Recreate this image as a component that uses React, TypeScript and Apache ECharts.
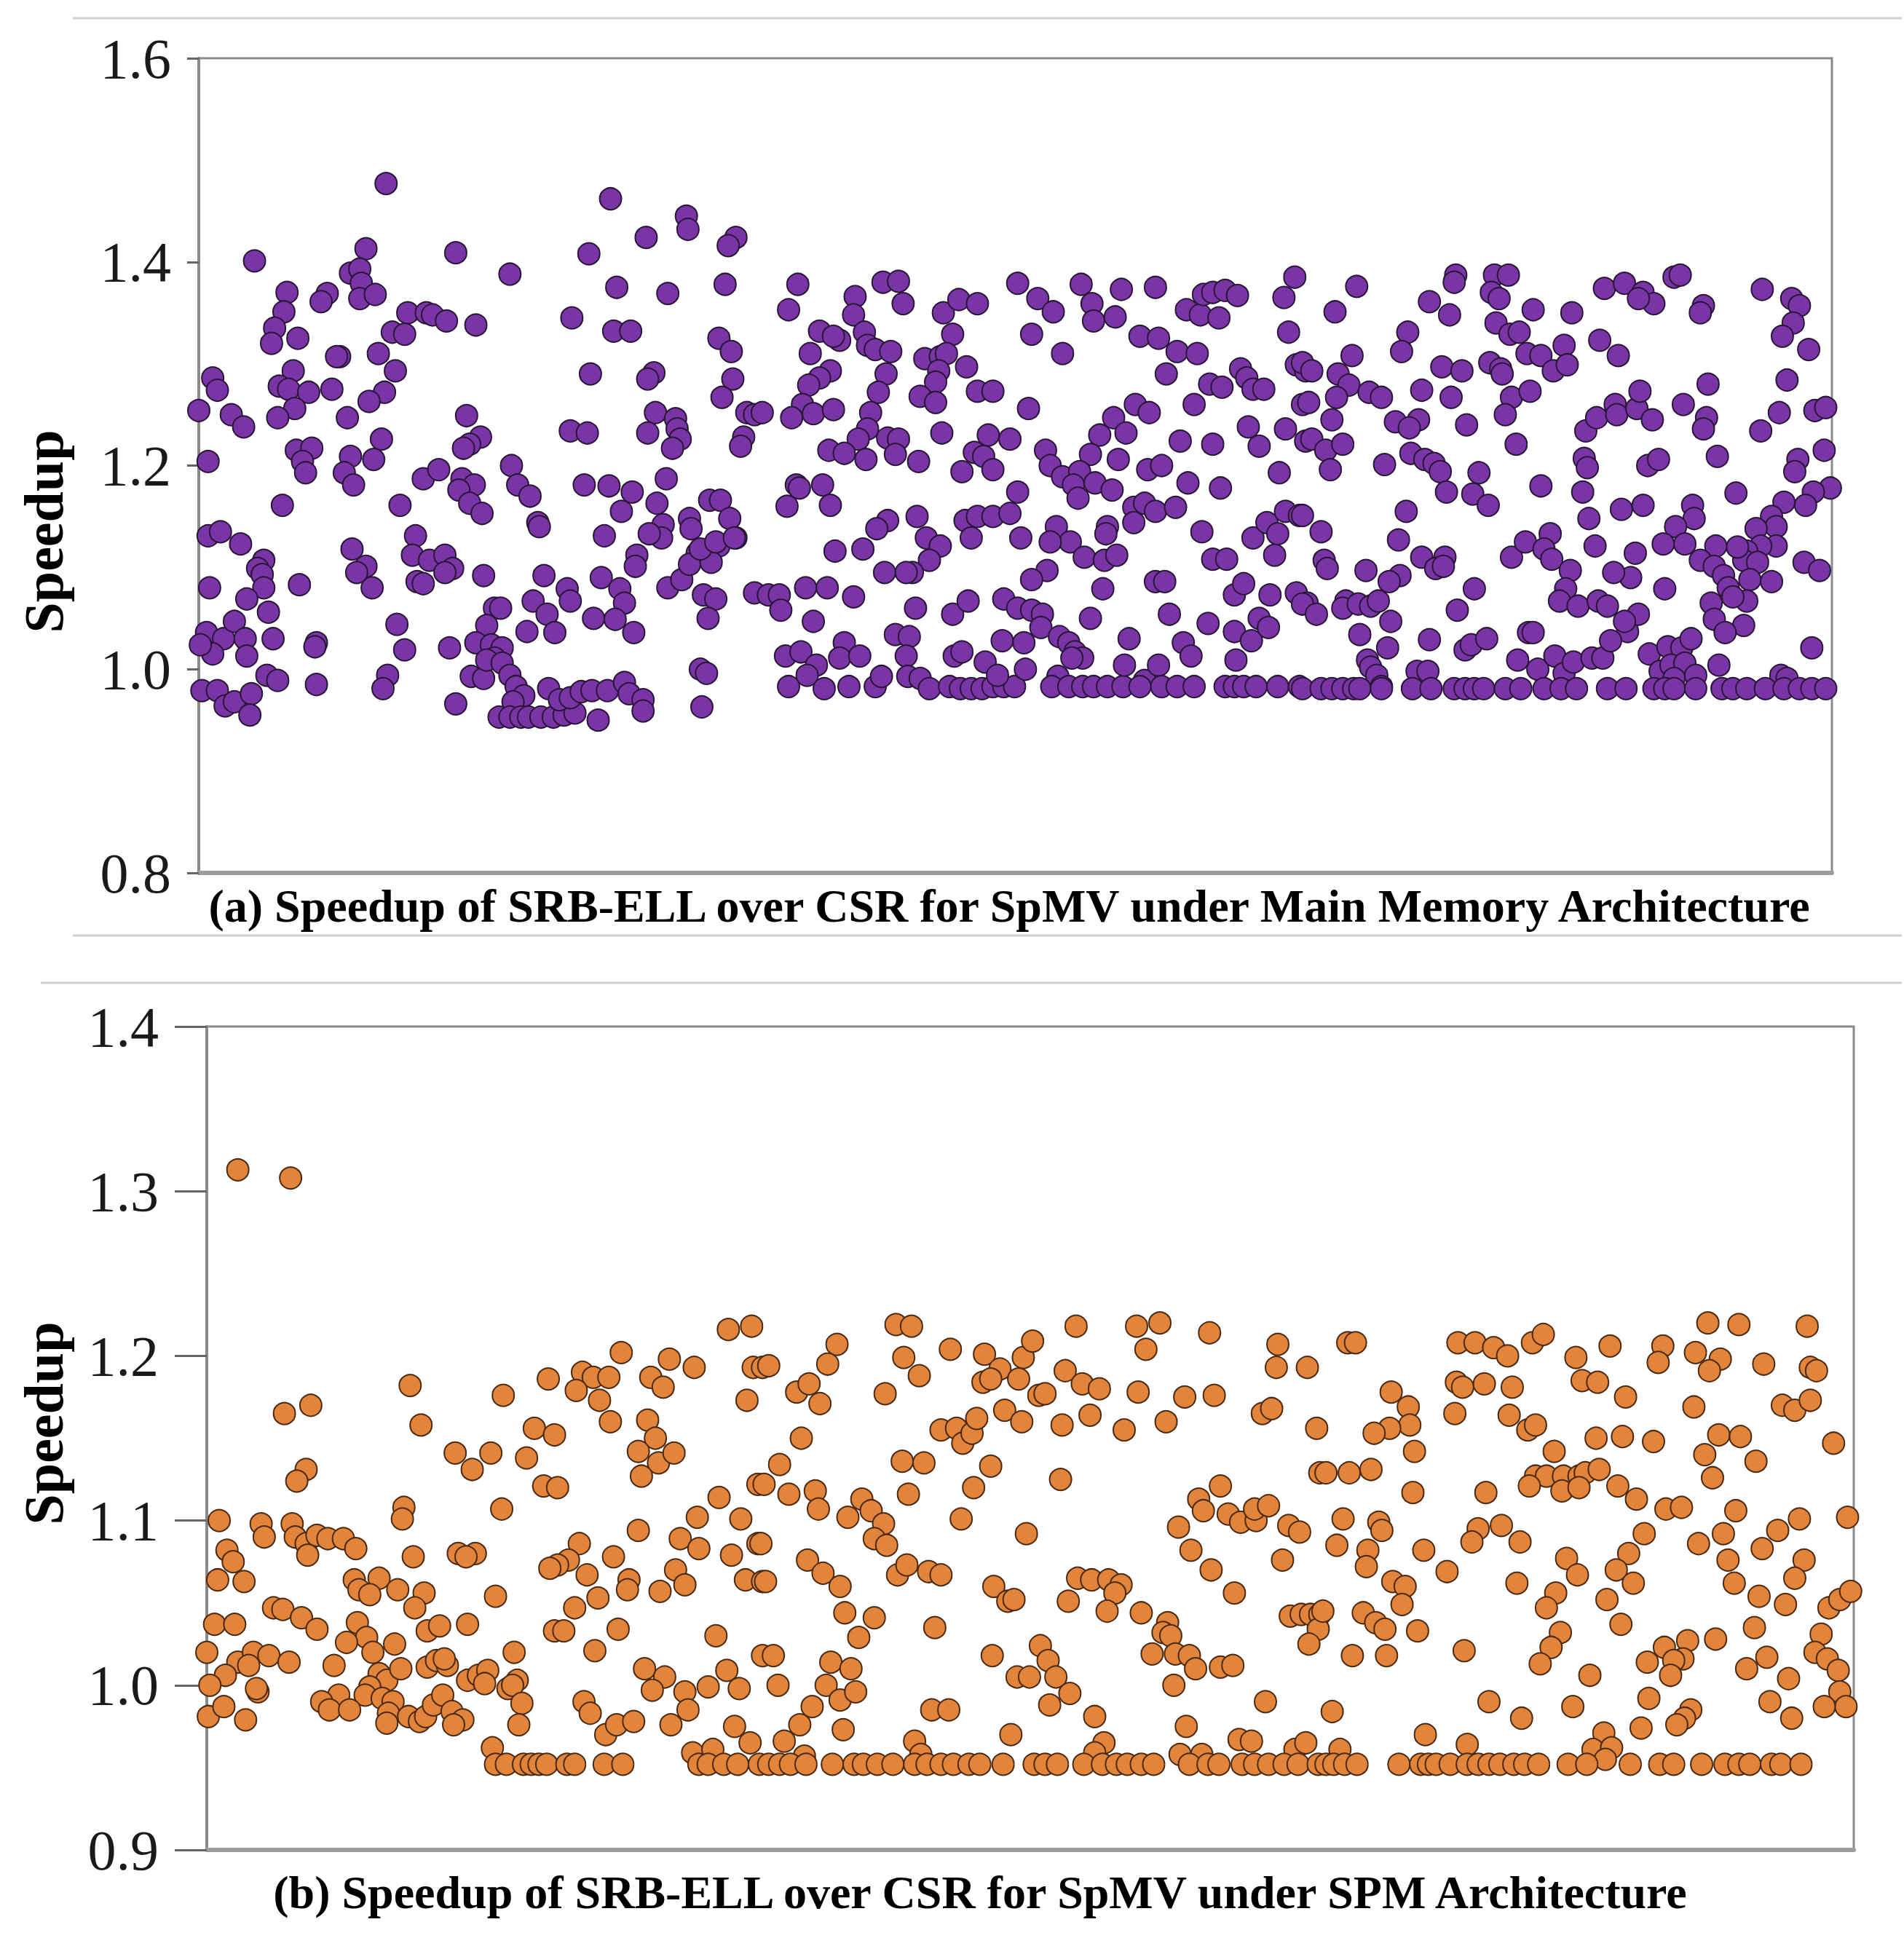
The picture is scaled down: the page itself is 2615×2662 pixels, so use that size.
import React, { useEffect, useRef } from "react";
import * as echarts from "echarts";

const W = 2615;
const H = 2662;

const SERIF = '"Liberation Serif", "Times New Roman", Times, serif';

const captionA = "(a) Speedup of SRB-ELL over CSR for SpMV under Main Memory Architecture";
const captionB = "(b) Speedup of SRB-ELL over CSR for SpMV under SPM Architecture";
const yAxisName = "Speedup";

// y axis ranges (min, max, step)
const mainMemTicks = [0.8, 1.6, 0.2];
const spmTicks = [0.9, 1.4, 0.1];
// x index ranges of the matrices
const mainMemIndexRange = [-1, 1054];
const spmIndexRange = [0, 1061];

// (a) Main Memory: [matrix index, speedup]
const mainMemSegA = [
  [120,1.477],[265,1.462],[314,1.445],[315,1.432],[288,1.424],[346,1.424],[341,1.416],[35,1.401],[107,1.413],[165,1.409],[251,1.408],[200,1.388],[56,1.370],[82,1.369],[78,1.361],[97,1.389],[103,1.393],[104,1.379],[103,1.364],[113,1.368],[269,1.375],[302,1.369],[339,1.378],[54,1.351],[48,1.335],[46,1.320],[63,1.325],[134,1.350],[146,1.350],[150,1.348],[159,1.342],[178,1.338],[124,1.331],[132,1.329],[240,1.345],[267,1.332],[278,1.332],[335,1.325],[343,1.312],[90,1.307],[88,1.307],[115,1.310],[126,1.293],[252,1.290],[293,1.291],[289,1.285],[344,1.285],[337,1.267],[8,1.286],[11,1.274],[60,1.293],[51,1.278],[57,1.275],[70,1.272],[85,1.275],[61,1.256],[50,1.247],[119,1.272],[109,1.263],[-1,1.254],[20,1.250],[28,1.238],[95,1.247],[172,1.249],[181,1.228],[174,1.221],[170,1.217],[294,1.252],[307,1.246],[308,1.236],[310,1.226],[305,1.217],[289,1.232],[239,1.234],[250,1.232],[353,1.252],[358,1.250],[351,1.228],[349,1.219],[5,1.204],[62,1.215],[72,1.217],[66,1.204],[68,1.193],[97,1.209],[93,1.193],[99,1.181],[117,1.226],[112,1.206],[144,1.187],[154,1.196],[169,1.187],[177,1.181],[167,1.176],[174,1.163],[182,1.153],[201,1.200],[205,1.181],[213,1.170],[218,1.144],[219,1.140],[248,1.181],[264,1.180],[279,1.174],[272,1.155],[301,1.187],[295,1.163],[329,1.166],[336,1.166],[342,1.148],[346,1.129],[335,1.121],[299,1.142],[298,1.129],[290,1.133],[316,1.148],[317,1.138],[261,1.131],[53,1.161],[129,1.161],[5,1.131],[13,1.135],[26,1.123],[41,1.107],[37,1.099],[40,1.093],[41,1.080],[30,1.069],[44,1.056],[6,1.080],[64,1.083],[98,1.118],[107,1.101],[111,1.080],[101,1.095],[139,1.131],[137,1.112],[148,1.107],[158,1.112],[163,1.099],[158,1.095],[140,1.086],[144,1.084],[183,1.092],[222,1.092],[237,1.079],[239,1.067],[215,1.067],[224,1.054],[229,1.036],[211,1.037],[259,1.090],[271,1.079],[274,1.065],[254,1.050],[268,1.049],[280,1.036],[282,1.112],[281,1.101],[302,1.080],[311,1.088],[321,1.114],[316,1.103],[330,1.105],[323,1.118],[333,1.125],[345,1.129],[325,1.073],[333,1.069],[328,1.050],[358,1.075],[4,1.036],[15,1.030],[8,1.015],[22,1.047],[29,1.030],[30,1.013],[0,1.024],[47,1.030],[75,1.026],[74,1.022],[127,1.044],[132,1.019],[161,1.021],[190,1.060],[194,1.060],[185,1.043],[178,1.026],[188,1.024],[195,1.021],[190,1.011],[1,0.979],[11,0.979],[16,0.964],[22,0.968],[33,0.976],[32,0.955],[43,0.994],[50,0.989],[75,0.985],[121,0.994],[118,0.981],[165,0.966],[175,0.993],[183,0.991],[185,1.009],[195,1.006],[200,0.994],[204,0.983],[209,0.974],[202,0.968],[193,0.953],[200,0.953],[207,0.953],[212,0.953],[220,0.953],[228,0.953],[235,0.955],[242,0.957],[225,0.981],[232,0.970],[239,0.972],[246,0.978],[253,0.979],[263,0.979],[274,0.987],[277,0.976],[286,0.970],[286,0.959],[257,0.950],[323,1.000],[327,0.996],[324,0.963]
];

const mainMemSegB = [
  [363,1.252],[386,1.378],[380,1.353],[400,1.332],[413,1.323],[409,1.327],[394,1.310],[407,1.293],[400,1.286],[393,1.279],[389,1.260],[382,1.247],[396,1.251],[409,1.255],[423,1.366],[422,1.348],[429,1.331],[431,1.318],[436,1.314],[446,1.312],[441,1.380],[451,1.381],[454,1.359],[443,1.290],[438,1.272],[433,1.252],[431,1.236],[425,1.226],[430,1.206],[406,1.215],[416,1.212],[444,1.227],[451,1.226],[449,1.211],[464,1.204],[385,1.181],[387,1.178],[402,1.181],[407,1.161],[379,1.160],[480,1.350],[490,1.363],[502,1.359],[486,1.329],[468,1.305],[478,1.307],[482,1.310],[477,1.293],[475,1.282],[465,1.268],[475,1.262],[495,1.297],[502,1.273],[512,1.273],[479,1.232],[509,1.230],[523,1.226],[500,1.213],[506,1.209],[492,1.194],[512,1.196],[528,1.379],[541,1.364],[551,1.351],[537,1.329],[557,1.310],[535,1.256],[569,1.378],[576,1.359],[577,1.342],[591,1.346],[595,1.373],[617,1.375],[607,1.327],[619,1.325],[631,1.312],[644,1.310],[624,1.290],[637,1.353],[646,1.348],[648,1.368],[654,1.370],[662,1.372],[670,1.367],[658,1.345],[700,1.365],[707,1.385],[703,1.331],[652,1.280],[660,1.277],[642,1.260],[672,1.295],[676,1.286],[680,1.275],[687,1.275],[708,1.299],[714,1.293],[712,1.260],[604,1.260],[613,1.252],[590,1.247],[581,1.230],[598,1.232],[575,1.211],[593,1.206],[633,1.224],[654,1.221],[677,1.238],[684,1.219],[701,1.236],[714,1.224],[546,1.215],[549,1.200],[557,1.189],[568,1.194],[564,1.181],[567,1.168],[578,1.183],[589,1.176],[612,1.196],[621,1.200],[638,1.183],[659,1.178],[697,1.193],[528,1.174],[494,1.146],[502,1.150],[512,1.150],[523,1.153],[498,1.129],[530,1.129],[444,1.146],[437,1.138],[428,1.118],[410,1.116],[463,1.150],[469,1.129],[478,1.121],[471,1.107],[460,1.095],[456,1.095],[442,1.095],[553,1.140],[562,1.125],[571,1.110],[549,1.125],[584,1.107],[592,1.112],[586,1.140],[585,1.133],[603,1.159],[610,1.163],[617,1.155],[630,1.159],[603,1.144],[647,1.135],[654,1.108],[663,1.108],[680,1.129],[689,1.144],[696,1.133],[701,1.155],[710,1.151],[694,1.112],[547,1.097],[537,1.088],[583,1.079],[617,1.086],[623,1.086],[668,1.073],[674,1.084],[691,1.073],[708,1.075],[715,1.065],[367,1.073],[374,1.073],[375,1.058],[391,1.080],[405,1.080],[422,1.071],[396,1.047],[462,1.060],[486,1.054],[496,1.067],[519,1.069],[528,1.060],[537,1.058],[544,1.054],[543,1.041],[575,1.050],[626,1.054],[651,1.045],[668,1.037],[679,1.028],[684,1.050],[690,1.041],[378,1.013],[388,1.017],[398,1.004],[392,0.994],[380,0.983],[403,0.981],[416,1.026],[413,1.011],[426,1.013],[419,0.983],[436,0.983],[440,0.993],[449,1.034],[458,1.032],[456,1.013],[457,0.993],[465,0.991],[471,0.981],[484,0.983],[491,0.981],[498,0.981],[505,0.981],[512,0.983],[519,0.983],[526,0.983],[487,1.013],[492,1.017],[507,1.007],[518,1.028],[532,1.026],[533,1.000],[515,0.994],[554,0.993],[550,0.983],[561,0.983],[570,0.983],[577,0.983],[586,0.983],[596,0.983],[555,1.032],[561,1.026],[565,1.017],[570,1.011],[563,1.011],[600,1.030],[597,1.004],[610,0.989],[619,1.004],[621,0.983],[631,0.983],[642,0.983],[607,0.983],[635,1.026],[640,1.013],[662,0.983],[668,0.983],[674,0.983],[682,0.983],[696,0.983],[710,0.983],[669,1.009]
];

const mainMemSegC = [
  [747,1.376],[733,1.351],[811,1.387],[810,1.380],[836,1.387],[845,1.387],[834,1.370],[839,1.364],[794,1.361],[807,1.348],[861,1.353],[886,1.350],[907,1.374],[920,1.379],[932,1.370],[939,1.359],[929,1.364],[952,1.385],[956,1.387],[971,1.357],[969,1.350],[1009,1.373],[1028,1.364],[1033,1.357],[1029,1.340],[1022,1.327],[1039,1.314],[780,1.331],[776,1.312],[744,1.308],[837,1.340],[846,1.329],[852,1.331],[857,1.310],[866,1.308],[874,1.293],[881,1.318],[883,1.299],[904,1.323],[916,1.308],[712,1.301],[718,1.293],[735,1.290],[742,1.279],[734,1.267],[755,1.272],[763,1.267],[716,1.262],[802,1.297],[815,1.293],[808,1.267],[789,1.274],[833,1.301],[840,1.295],[841,1.290],[847,1.267],[859,1.273],[843,1.250],[850,1.221],[731,1.245],[718,1.226],[727,1.215],[738,1.221],[730,1.196],[772,1.243],[787,1.245],[781,1.237],[818,1.240],[765,1.201],[782,1.212],[791,1.206],[797,1.202],[801,1.194],[805,1.174],[826,1.193],[822,1.172],[832,1.161],[866,1.180],[895,1.234],[902,1.247],[914,1.260],[915,1.250],[928,1.256],[930,1.273],[938,1.245],[894,1.207],[896,1.198],[893,1.174],[935,1.200],[942,1.206],[958,1.260],[973,1.247],[971,1.236],[974,1.280],[980,1.209],[1008,1.234],[1020,1.252],[1025,1.284],[1043,1.254],[1050,1.257],[1049,1.215],[1032,1.206],[1030,1.194],[992,1.173],[1053,1.178],[1042,1.174],[1037,1.161],[1023,1.164],[1015,1.150],[1018,1.140],[1005,1.138],[1018,1.121],[1008,1.121],[999,1.116],[997,1.107],[1006,1.105],[993,1.120],[1001,1.088],[999,1.067],[1015,1.086],[997,1.043],[979,1.121],[969,1.107],[978,1.101],[984,1.092],[987,1.080],[990,1.071],[976,1.065],[978,1.049],[985,1.036],[1036,1.105],[1046,1.097],[1041,1.021],[964,1.161],[965,1.148],[953,1.140],[959,1.123],[945,1.123],[918,1.157],[932,1.161],[897,1.148],[901,1.121],[946,1.079],[927,1.114],[924,1.090],[913,1.095],[847,1.110],[856,1.125],[872,1.133],[868,1.118],[873,1.108],[885,1.097],[882,1.079],[878,1.067],[890,1.062],[903,1.067],[909,1.062],[922,1.037],[929,1.054],[920,1.047],[779,1.155],[774,1.127],[712,1.151],[724,1.135],[726,1.107],[728,1.099],[753,1.097],[789,1.110],[804,1.110],[798,1.099],[803,1.101],[775,1.092],[768,1.086],[823,1.079],[812,1.058],[712,1.064],[721,1.054],[740,1.067],[738,1.060],[748,1.064],[756,1.062],[761,1.067],[769,1.047],[749,1.034],[767,1.021],[754,1.009],[756,1.002],[760,0.994],[763,0.983],[794,1.029],[817,1.019],[821,1.024],[831,1.030],[858,1.036],[861,1.036],[851,1.009],[864,1.000],[875,1.013],[881,0.996],[887,1.007],[899,1.011],[906,1.011],[911,1.028],[936,1.015],[948,1.022],[957,1.021],[963,1.030],[943,0.998],[950,1.004],[959,1.006],[966,0.994],[952,0.991],[981,1.004],[1021,0.994],[1025,0.991],[786,0.998],[793,0.998]
];

// matrices sitting on the 0.981 floor in (a), right part
const mainMemFloorIdx = [712,724,731,738,745,749,763,783,795,810,817,823,829,843,853,868,879,889,909,921,939,946,952,966,983,990,999,1011,1023,1033,1041,1050];
const mainMemFloorValue = 0.981;

// (b) SPM: [matrix index, speedup]
const spmSegD = [
  [20,1.313],[54,1.308],[50,1.165],[67,1.170],[131,1.182],[138,1.158],[191,1.176],[220,1.186],[242,1.190],[249,1.187],[259,1.187],[238,1.179],[253,1.173],[260,1.160],[267,1.202],[286,1.187],[294,1.181],[298,1.198],[314,1.193],[336,1.216],[351,1.218],[352,1.193],[358,1.193],[348,1.173],[284,1.161],[289,1.150],[278,1.142],[291,1.135],[301,1.141],[280,1.127],[211,1.156],[224,1.152],[160,1.141],[183,1.141],[171,1.131],[206,1.138],[217,1.121],[226,1.120],[64,1.131],[58,1.124],[127,1.108],[126,1.101],[190,1.107],[355,1.122],[330,1.114],[8,1.100],[35,1.098],[37,1.090],[55,1.098],[57,1.090],[64,1.086],[71,1.091],[78,1.089],[88,1.089],[96,1.083],[65,1.079],[13,1.082],[17,1.075],[7,1.064],[24,1.063],[133,1.078],[162,1.080],[173,1.080],[167,1.078],[240,1.086],[233,1.076],[226,1.073],[221,1.071],[262,1.078],[245,1.067],[252,1.053],[278,1.094],[305,1.089],[317,1.083],[316,1.102],[344,1.101],[355,1.086],[338,1.079],[302,1.070],[308,1.061],[292,1.057],[272,1.064],[271,1.058],[347,1.064],[358,1.063],[95,1.064],[111,1.065],[98,1.058],[105,1.055],[123,1.058],[140,1.056],[134,1.047],[186,1.054],[237,1.047],[43,1.047],[49,1.046],[61,1.041],[71,1.034],[5,1.037],[18,1.037],[142,1.033],[150,1.036],[168,1.037],[97,1.038],[103,1.029],[90,1.026],[107,1.020],[121,1.025],[82,1.012],[224,1.033],[230,1.033],[265,1.034],[328,1.030],[250,1.021],[198,1.020],[0,1.020],[20,1.014],[30,1.020],[40,1.018],[27,1.012],[53,1.014],[12,1.006],[2,1.000],[33,0.996],[32,0.998],[1,0.981],[11,0.987],[25,0.979],[111,1.007],[116,1.003],[125,1.010],[142,1.011],[148,1.015],[155,1.012],[153,1.016],[105,0.999],[102,0.994],[85,0.994],[74,0.990],[79,0.985],[92,0.985],[113,0.992],[120,0.990],[117,0.983],[116,0.977],[130,0.981],[137,0.978],[141,0.981],[146,0.988],[152,0.994],[158,0.984],[165,0.979],[159,0.976],[168,1.003],[175,1.006],[181,1.009],[179,1.001],[194,0.998],[200,1.003],[197,1.000],[203,0.989],[201,0.976],[184,0.962],[243,0.990],[247,0.983],[257,0.970],[264,0.976],[275,0.978],[282,1.010],[295,1.005],[287,0.997],[308,0.996],[310,0.985],[323,0.999],[335,1.009],[343,0.998],[299,0.976],[340,0.975],[350,0.965],[313,0.959],[326,0.961],[358,1.018]
];

const spmSegE = [
  [444,1.219],[454,1.218],[406,1.207],[400,1.195],[362,1.194],[380,1.178],[388,1.183],[395,1.171],[383,1.150],[437,1.177],[449,1.199],[459,1.188],[479,1.204],[501,1.201],[511,1.192],[500,1.184],[505,1.186],[526,1.199],[532,1.209],[523,1.186],[536,1.176],[540,1.177],[514,1.167],[525,1.160],[473,1.155],[483,1.156],[487,1.147],[493,1.153],[496,1.162],[560,1.218],[553,1.191],[564,1.183],[575,1.180],[551,1.158],[569,1.164],[599,1.218],[614,1.220],[605,1.204],[600,1.178],[630,1.175],[649,1.176],[646,1.214],[591,1.155],[618,1.160],[690,1.207],[689,1.193],[709,1.193],[680,1.165],[686,1.168],[715,1.156],[369,1.134],[359,1.122],[375,1.116],[392,1.118],[394,1.107],[448,1.136],[462,1.135],[452,1.116],[505,1.133],[494,1.120],[550,1.125],[357,1.086],[360,1.063],[413,1.102],[422,1.113],[428,1.106],[436,1.098],[430,1.089],[438,1.085],[387,1.076],[397,1.068],[408,1.060],[445,1.067],[451,1.073],[465,1.069],[473,1.067],[486,1.101],[528,1.092],[507,1.060],[516,1.051],[520,1.052],[411,1.044],[430,1.041],[420,1.029],[469,1.035],[555,1.051],[561,1.065],[570,1.064],[581,1.064],[589,1.061],[585,1.056],[580,1.045],[602,1.044],[619,1.038],[616,1.032],[621,1.030],[609,1.019],[624,1.019],[633,1.018],[637,1.010],[639,1.113],[642,1.106],[653,1.121],[658,1.104],[666,1.099],[676,1.100],[675,1.107],[684,1.109],[626,1.096],[634,1.082],[647,1.070],[662,1.056],[697,1.097],[704,1.093],[693,1.076],[717,1.129],[698,1.042],[705,1.043],[711,1.043],[717,1.043],[716,1.034],[710,1.025],[653,1.011],[661,1.012],[623,1.000],[682,0.990],[365,1.018],[368,1.000],[402,1.014],[415,1.010],[399,1.000],[408,0.991],[418,0.996],[390,0.987],[382,0.976],[410,0.973],[372,0.966],[385,0.957],[506,1.018],[537,1.024],[542,1.015],[547,1.005],[522,1.005],[530,1.005],[556,0.995],[543,0.988],[467,0.985],[478,0.985],[572,0.981],[518,0.970],[456,0.966],[460,0.958],[578,0.965],[572,0.959],[631,0.975],[627,0.958],[641,0.958],[665,0.967],[673,0.966],[701,0.961],[708,0.965]
];

const spmSegF = [
  [735,1.208],[740,1.208],[763,1.178],[774,1.169],[775,1.158],[762,1.156],[752,1.153],[778,1.142],[721,1.129],[736,1.129],[750,1.131],[777,1.117],[806,1.208],[817,1.208],[829,1.205],[838,1.200],[854,1.208],[861,1.213],[805,1.184],[809,1.181],[823,1.183],[841,1.181],[804,1.165],[839,1.164],[851,1.155],[856,1.158],[882,1.199],[904,1.206],[886,1.185],[896,1.184],[914,1.175],[938,1.206],[935,1.196],[959,1.202],[967,1.220],[975,1.198],[968,1.191],[987,1.219],[958,1.169],[1003,1.195],[1031,1.218],[1033,1.193],[1037,1.191],[1015,1.170],[1023,1.167],[1033,1.173],[1048,1.147],[868,1.142],[856,1.127],[863,1.127],[874,1.127],[884,1.127],[888,1.129],[897,1.131],[873,1.118],[884,1.120],[852,1.121],[895,1.150],[912,1.151],[932,1.148],[909,1.121],[921,1.113],[824,1.117],[974,1.152],[988,1.151],[965,1.140],[970,1.126],[998,1.136],[940,1.107],[950,1.108],[985,1.106],[1057,1.102],[732,1.101],[755,1.099],[757,1.094],[728,1.085],[748,1.082],[747,1.072],[784,1.082],[819,1.095],[815,1.087],[834,1.097],[846,1.087],[799,1.069],[926,1.092],[961,1.086],[977,1.092],[1012,1.094],[1026,1.101],[1002,1.083],[980,1.076],[984,1.062],[1029,1.076],[1023,1.065],[876,1.077],[883,1.067],[916,1.080],[908,1.070],[919,1.062],[844,1.062],[764,1.063],[772,1.060],[770,1.049],[719,1.045],[745,1.044],[753,1.038],[759,1.034],[780,1.033],[738,1.018],[760,1.018],[810,1.021],[869,1.056],[863,1.047],[902,1.052],[911,1.037],[872,1.032],[866,1.023],[859,1.013],[891,1.006],[1000,1.054],[1017,1.049],[997,1.035],[972,1.028],[954,1.027],[939,1.023],[928,1.014],[951,1.016],[945,1.015],[943,1.006],[992,1.010],[1005,1.017],[1019,1.004],[1040,1.031],[1036,1.020],[1044,1.016],[1051,1.009],[1052,0.996],[1056,0.987],[1042,0.987],[1045,1.047],[1052,1.052],[1059,1.057],[1007,0.990],[1021,0.980],[929,0.992],[924,0.974],[956,0.985],[952,0.980],[947,0.976],[880,0.987],[826,0.990],[847,0.980],[725,0.984],[785,0.970],[812,0.964],[730,0.961],[900,0.971],[893,0.961],[905,0.962],[901,0.955]
];

// matrices sitting on the 0.952 floor in (b)
const spmFloorIdx = [186,193,204,209,214,219,232,237,256,268,317,323,333,342,356,362,369,376,386,403,417,423,432,442,456,464,473,481,491,498,513,533,540,548,565,577,586,593,602,610,633,645,652,667,675,684,694,703,716,721,726,733,741,768,782,787,792,801,812,819,826,833,842,849,858,877,889,917,936,945,963,978,987,994,1008,1014,1027];
const spmFloorValue = 0.952;

export default function App() {
  const ref = useRef<HTMLDivElement>(null);

  useEffect(() => {
    if (!ref.current) return;
    const chart = echarts.init(ref.current, undefined, { renderer: "svg", width: W, height: H });

    const mainMemData = [
      ...mainMemSegA,
      ...mainMemSegB,
      ...mainMemSegC,
      ...mainMemFloorIdx.map((i) => [i, mainMemFloorValue]),
    ];
    const spmData = [
      ...spmSegD,
      ...spmSegE,
      ...spmSegF,
      ...spmFloorIdx.map((i) => [i, spmFloorValue]),
    ];

    const yAxisCommon = (tickLen: number, margin: number) => ({
      type: "value" as const,
      axisLine: { show: true, onZero: false, lineStyle: { color: "#8a8a8a", width: 4 } },
      axisTick: { show: true, inside: false, length: tickLen, lineStyle: { color: "#666", width: 3 } },
      axisLabel: {
        margin,
        fontSize: 78,
        fontFamily: SERIF,
        color: "#1a1a1a",
        formatter: (v: number) => v.toFixed(1),
      },
      splitLine: { show: false },
    });

    const xAxisCommon = {
      type: "value" as const,
      axisLine: { show: true, onZero: false, lineStyle: { color: "#9c9c9c", width: 6 } },
      axisTick: { show: false },
      axisLabel: { show: false },
      splitLine: { show: false },
    };

    const option = {
      animation: false,
      backgroundColor: "#ffffff",
      grid: [
        { left: 273, top: 80, width: 2243, height: 1119, show: true, borderColor: "#8a8a8a", borderWidth: 3, backgroundColor: "transparent" },
        { left: 284, top: 1410, width: 2262, height: 1131, show: true, borderColor: "#8a8a8a", borderWidth: 3, backgroundColor: "transparent" },
      ],
      xAxis: [
        { ...xAxisCommon, gridIndex: 0, min: mainMemIndexRange[0], max: mainMemIndexRange[1] },
        { ...xAxisCommon, gridIndex: 1, min: spmIndexRange[0], max: spmIndexRange[1] },
      ],
      yAxis: [
        { ...yAxisCommon(16, 38), gridIndex: 0, min: mainMemTicks[0], max: mainMemTicks[1], interval: mainMemTicks[2] },
        { ...yAxisCommon(44, 66), gridIndex: 1, min: spmTicks[0], max: spmTicks[1], interval: spmTicks[2] },
      ],
      series: [
        {
          type: "scatter",
          xAxisIndex: 0,
          yAxisIndex: 0,
          data: mainMemData,
          symbol: "circle",
          symbolSize: 30,
          itemStyle: { color: "#7934a6", borderColor: "#2a1636", borderWidth: 2, opacity: 1 },
          emphasis: { disabled: true },
        },
        {
          type: "scatter",
          xAxisIndex: 1,
          yAxisIndex: 1,
          data: spmData,
          symbol: "circle",
          symbolSize: 30,
          itemStyle: { color: "#e2843a", borderColor: "#4a2a12", borderWidth: 2, opacity: 1 },
          emphasis: { disabled: true },
        },
      ],
      graphic: [
        { type: "line", shape: { x1: 100, y1: 25, x2: 2612, y2: 25 }, style: { stroke: "#cfcfcf", lineWidth: 3 } },
        { type: "line", shape: { x1: 100, y1: 1285, x2: 2612, y2: 1285 }, style: { stroke: "#cfcfcf", lineWidth: 3 } },
        { type: "line", shape: { x1: 56, y1: 1350, x2: 2612, y2: 1350 }, style: { stroke: "#cfcfcf", lineWidth: 3 } },
        {
          type: "text",
          x: 1386,
          y: 1244,
          style: { text: captionA, fontSize: 64, fontWeight: "bold", fontFamily: SERIF, fill: "#000", align: "center", verticalAlign: "middle" },
        },
        {
          type: "text",
          x: 1346,
          y: 2599,
          style: { text: captionB, fontSize: 64, fontWeight: "bold", fontFamily: SERIF, fill: "#000", align: "center", verticalAlign: "middle" },
        },
        {
          type: "text",
          x: 60,
          y: 730,
          rotation: Math.PI / 2,
          style: { text: yAxisName, fontSize: 76, fontWeight: "bold", fontFamily: SERIF, fill: "#000", align: "center", verticalAlign: "middle" },
        },
        {
          type: "text",
          x: 60,
          y: 1955,
          rotation: Math.PI / 2,
          style: { text: yAxisName, fontSize: 76, fontWeight: "bold", fontFamily: SERIF, fill: "#000", align: "center", verticalAlign: "middle" },
        },
      ],
    };

    chart.setOption(option as any);
    return () => {
      chart.dispose();
    };
  }, []);

  return (
    <div
      ref={ref}
      style={{ position: "absolute", left: 0, top: 0, width: W, height: H, background: "#fff" }}
    />
  );
}
